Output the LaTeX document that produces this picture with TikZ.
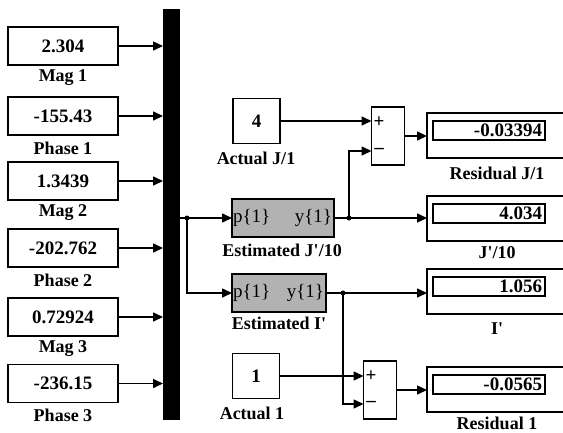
\documentclass[tikz,border=0pt]{standalone}
\usepackage{fontspec}
\setmainfont{Liberation Serif}
\usetikzlibrary{arrows.meta}
\definecolor{blockgray}{gray}{0.7}
\newcommand{\apos}{\textquotesingle}
\begin{document}
\begin{tikzpicture}[x=1pt,y=-1pt,
  every node/.style={inner sep=0pt, outer sep=0pt, font=\fontsize{18}{18}\selectfont\bfseries},
  srcbox/.style={draw, line width=1.6pt, minimum width=110pt, minimum height=38pt},
  constbox/.style={draw, line width=1.6pt, minimum width=47pt, minimum height=45pt},
  fcnbox/.style={draw, line width=1.6pt, fill=blockgray, minimum height=38pt},
  sumbox/.style={draw, line width=1.6pt, minimum width=33pt, minimum height=58pt},
  dispout/.style={draw, line width=1.6pt, minimum width=140pt, minimum height=45pt},
  dispin/.style={draw, line width=1.6pt, minimum width=112pt, minimum height=19pt},
  numtxt/.style={font=\fontsize{19}{19}\selectfont\bfseries},
  pytxt/.style={font=\fontsize{19}{19}\selectfont},
  conn/.style={line width=1.6pt, -{Triangle[length=10pt,width=9pt]}},
  wire/.style={line width=1.6pt},
  jdot/.style={circle, fill, minimum size=5pt},
  sgn/.style={font=\fontsize{19}{19}\selectfont\bfseries}
]
\clip (0,0) rectangle (563,432);
% source blocks
\foreach \yy/\vv/\tt [count=\i] in {46/2.304/Mag 1, 116/-155.43/Phase 1, 181/1.3439/Mag 2, 248/-202.762/Phase 2, 317/0.72924/Mag 3, 383.5/-236.15/Phase 3}{
  \node[srcbox, numtxt] (s\i) at (63,\yy) {\vv};
  \node (l\i) at (63,\yy+32) {\tt};
}
% mux bar
\node[fill, minimum width=17pt, minimum height=411pt] (bar) at (171.5,214.5) {};
\foreach \i in {1,...,6}{
  \draw[conn] (s\i.east) -- (s\i.east -| bar.west);
}
% function blocks
\node[fcnbox, minimum width=102pt] (estJ) at (283,218) {};
\node[pytxt, anchor=west] (pJ) at ([xshift=1pt]estJ.west) {p\{1\}};
\node[pytxt, anchor=east] (yJ) at ([xshift=-2pt]estJ.east) {y\{1\}};
\node (estJl) at (282,250) {Estimated J\apos/10};
\node[fcnbox, minimum width=94pt] (estI) at (279,293) {};
\node[pytxt, anchor=west] (pI) at ([xshift=1pt]estI.west) {p\{1\}};
\node[pytxt, anchor=east] (yI) at ([xshift=-2pt]estI.east) {y\{1\}};
\node (estIl) at (279,323) {Estimated I\apos};
% mux output
\coordinate (j1) at (187,218);
\draw[conn] (bar.east |- estJ.west) -- (estJ.west);
\draw[conn] (j1) |- (estI.west);
\node[jdot] (j1d) at (j1) {};
% actual blocks
\node[constbox, numtxt] (aJ) at (256.5,121) {4};
\node (aJl) at (256,158) {Actual J/1};
\node[constbox, numtxt] (a1) at (256,376) {1};
\node (a1l) at (252,413) {Actual 1};
% sum blocks
\node[sumbox] (sum1) at (388,136) {};
\node[sgn] (p1) at (379,122) {+};
\node[sgn] (m1) at (379,151) {–};
\node[sumbox] (sum2) at (380,390) {};
\node[sgn] (p2) at (371,376) {+};
\node[sgn] (m2) at (371,404) {–};
% displays
\foreach \nm/\yy/\vv/\tt/\ly in {dR1/135.5/-0.03394/Residual J\slash 1/173, dJ/218.5/4.034/J\apos\slash 10/253, dI/291.5/1.056/I\apos/329, dR2/389.5/-0.0565/Residual 1/423}{
  \node[dispout] (\nm o) at (497,\yy) {};
  \node[dispin] (\nm i) at (489,\yy-5) {};
  \node[numtxt, anchor=east] (\nm t) at (542,\yy-5) {\vv};
  \node (\nm l) at (497,\ly) {\tt};
}
% connections
\draw[conn] (aJ.east) -- (aJ.east -| sum1.west);
\coordinate (j2) at (349,218);
\draw[wire] (estJ.east) -- (j2);
\draw[conn] (j2) -- (j2 -| dJo.west);
\draw[conn] (j2) |- (m1 -| sum1.west);
\node[jdot] (j2d) at (j2) {};
\draw[conn] (sum1.east) -- (sum1.east -| dR1o.west);
\coordinate (j3) at (343,293);
\draw[wire] (estI.east) -- (j3);
\draw[conn] (j3) -- (j3 -| dIo.west);
\draw[conn] (j3) |- (m2 -| sum2.west);
\node[jdot] (j3d) at (j3) {};
\draw[conn] (a1.east) -- (a1.east -| sum2.west);
\draw[conn] (sum2.east) -- (sum2.east -| dR2o.west);
\end{tikzpicture}
\end{document}
